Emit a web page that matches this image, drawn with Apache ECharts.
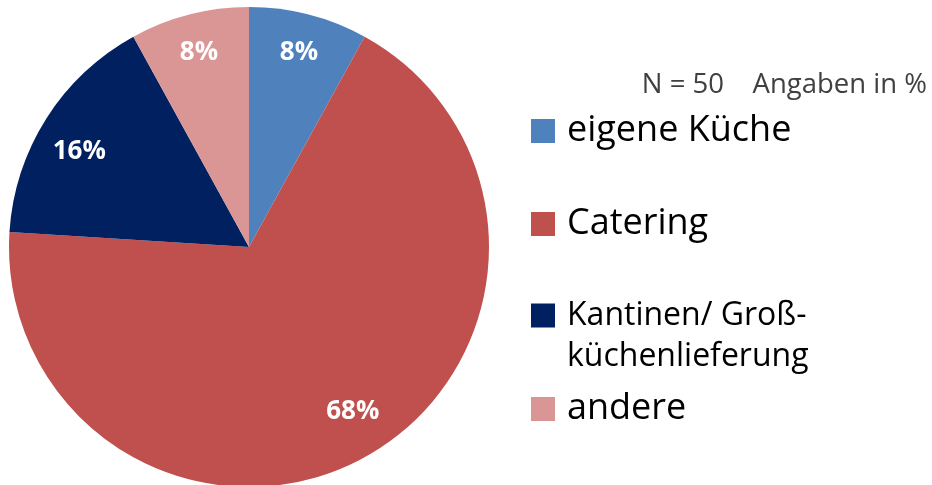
<!DOCTYPE html>
<html><head><meta charset="utf-8">
<script src="https://cdn.jsdelivr.net/npm/echarts@6/dist/echarts.min.js"></script>
<style>html,body{margin:0;padding:0;background:#fff}#c{width:932px;height:485px}</style>
</head><body><div id="c"></div>
<script>
const categories = ['eigene Küche', 'Catering', 'Kantinen/ Groß-\nküchenlieferung', 'andere'];
const values = [8, 68, 16, 8];
const colors = ['#4F81BD', '#C0504D', '#002060', '#D99694'];
const note = 'N = 50    Angaben in %';
const FONT = 'Open Sans';

// label nudges (styling only) to mimic the reference's label placement
const labelNudges = [[0, 0], [7, -12], [0, 12], [0, 0]];

const chart = echarts.init(document.getElementById('c'));
const data = categories.map((n, i) => ({ name: n, value: values[i], itemStyle: { color: colors[i] } }));
const iconTops = [119, 212, 304, 397];
const legends = categories.map((n, i) => {
  const two = n.indexOf('\n') >= 0;
  const base = {
    orient: 'vertical', left: 531, padding: 0,
    icon: 'rect', itemWidth: 24, itemHeight: 24, itemGap: 0,
    selectedMode: false, data: [n]
  };
  if (!two) {
    return Object.assign(base, {
      top: iconTops[i] - 6,
      textStyle: { fontFamily: FONT, color: '#000', fontSize: 36, lineHeight: 24, padding: [0, 0, 0, 7] }
    });
  }
  return Object.assign(base, {
    top: iconTops[i] - 50,
    formatter: name => '{f| }\n' + name.split('\n').map(s => '{a|' + s + '}').join('\n'),
    textStyle: {
      fontFamily: FONT, color: '#000', fontSize: 32, lineHeight: 41, padding: [0, 0, 0, 7],
      rich: {
        f: { fontSize: 10, lineHeight: 41 },
        a: { fontFamily: FONT, color: '#000', fontSize: 32, lineHeight: 41 }
      }
    }
  });
});
chart.setOption({
  animation: false,
  title: { text: note, right: 5, top: 71, padding: 0,
    textStyle: { fontFamily: FONT, fontSize: 27.5, fontWeight: 'normal', color: '#404040' } },
  legend: legends,
  series: [{
    type: 'pie', center: [249, 247], radius: 240, startAngle: 90, clockwise: true,
    label: { show: false }, labelLine: { show: false }, silent: true,
    itemStyle: { borderWidth: 0 }, data: data
  }, {
    type: 'pie', center: [249, 247], radius: [156, 240], startAngle: 90, clockwise: true,
    silent: true, itemStyle: { color: 'rgba(0,0,0,0)', borderWidth: 0 },
    label: { show: true, position: 'inside', formatter: p => p.value + '%',
      fontFamily: FONT, fontWeight: 'bold', fontSize: 26, color: '#fff' },
    labelLine: { show: false },
    labelLayout: p => ({ dx: labelNudges[p.dataIndex][0], dy: labelNudges[p.dataIndex][1] }),
    data: categories.map((n, i) => ({ name: n, value: values[i] }))
  }]
});
</script></body></html>
